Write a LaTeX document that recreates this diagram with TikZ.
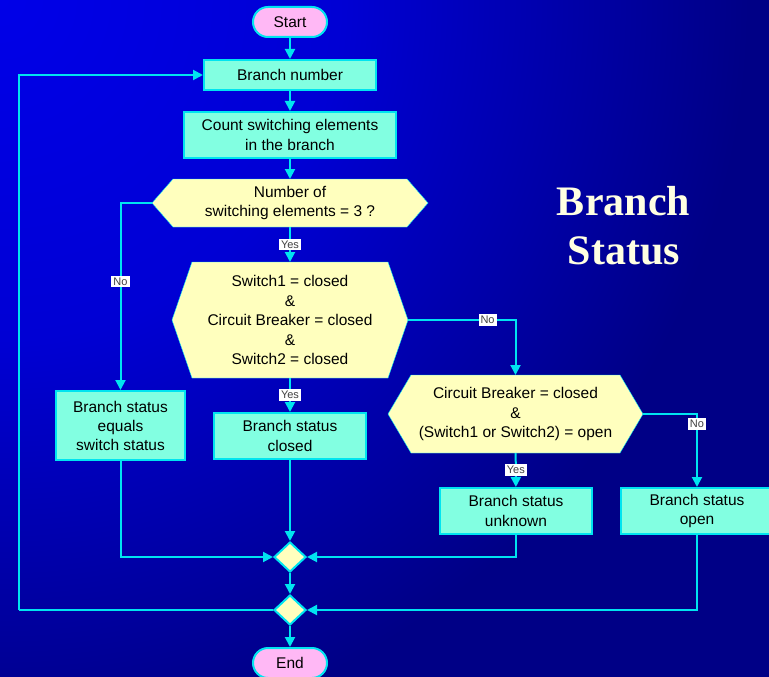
\documentclass[tikz,border=0pt]{standalone}
\usepackage{fontspec}
\setmainfont{Liberation Sans}
\newfontfamily\titlefont{Liberation Serif}
\usetikzlibrary{arrows.meta, calc, backgrounds, shapes.geometric}

\definecolor{bgA}{RGB}{0,0,232}
\definecolor{bgB}{RGB}{0,0,212}
\definecolor{bgC}{RGB}{0,0,134}
\definecolor{flowcyan}{RGB}{0,228,240}
\definecolor{taskfill}{RGB}{130,255,225}
\definecolor{askfill}{RGB}{255,255,190}
\definecolor{endsfill}{RGB}{255,184,245}
\definecolor{titlecream}{RGB}{255,255,226}

\pgfdeclareradialshading{backdrop}{\pgfpoint{0bp}{0bp}}{color(0bp)=(bgA); color(10.6bp)=(bgB); color(23.4bp)=(bgC); color(50bp)=(bgC)}

\begin{document}
\begin{tikzpicture}[x=1pt, y=-1pt, line width=2pt,
    font=\fontsize{15.5}{19.5}\selectfont,
    taskbox/.style={draw=flowcyan, fill=taskfill, inner sep=0pt, align=center},
    askbox/.style={inner sep=0pt, align=center},
    askshape/.style={draw=flowcyan, fill=askfill, line join=miter},
    endsbox/.style={draw=flowcyan, fill=endsfill, inner sep=0pt,
        minimum width=74pt, minimum height=30pt, rounded corners=15pt},
    joinbox/.style={diamond, draw=flowcyan, fill=askfill, inner sep=0pt,
        minimum width=32pt, minimum height=30pt},
    flow/.style={draw=flowcyan, -{Triangle[length=10pt, width=10pt]}},
    link/.style={draw=flowcyan},
    tag/.style={fill=white, text=black!75, inner xsep=2pt, inner ysep=2pt,
        font=\fontsize{11}{12}\selectfont}]

    \useasboundingbox (0, 0) rectangle (769, 677);

    % draw title
    \node[anchor=base, text=titlecream, font=\titlefont\bfseries\fontsize{42}{49}\selectfont] (title1) at (623.5, 215) {Branch};
    \node[anchor=base, text=titlecream, font=\titlefont\bfseries\fontsize{42}{49}\selectfont] (title2) at (624, 264) {Status};

    % draw main column
    \node[endsbox] (start) at (290, 22) {Start};
    \node[taskbox, minimum width=172pt, minimum height=30pt] (num) at (290, 75) {Branch number};
    \node[taskbox, minimum width=212pt, minimum height=46pt] (count) at (290, 135) {Count switching elements\\in the branch};
    \node[askbox, minimum width=274pt, minimum height=46pt] (q1) at (290, 203) {Number of\\switching elements = 3 ?};
    \node[askbox, minimum width=234pt, minimum height=114pt] (q2) at (290, 320) {Switch1 = closed\\\&\\Circuit Breaker = closed\\\&\\Switch2 = closed};
    \node[taskbox, minimum width=152pt, minimum height=46pt] (closed) at (290, 436) {Branch status\\closed};

    % draw side branches
    \node[taskbox, minimum width=129pt, minimum height=69pt, font=\fontsize{15.5}{19}\selectfont] (equals) at (120.5, 425.5) {Branch status\\equals\\switch status};
    \node[askbox, minimum width=253pt, minimum height=76pt] (q3) at (515.5, 414) {Circuit Breaker = closed\\\&\\(Switch1 or Switch2) = open};
    \node[taskbox, minimum width=152pt, minimum height=46pt] (unknown) at (516, 511) {Branch status\\unknown};
    \node[taskbox, minimum width=152pt, minimum height=46pt] (open) at (697, 511) {Branch status\\open};

    % draw joins and end
    \node[joinbox] (m1) at (290, 557) {};
    \node[joinbox] (m2) at (290, 610) {};
    \node[endsbox] (end) at (290, 663) {End};
    \coordinate (back) at (19, 610);

    % draw background and hexagons behind the text
    \begin{scope}[on background layer]
        \begin{scope}
            \clip (0, 0) rectangle (769, 677);
            \shade[shading=backdrop] (-800, -800) rectangle (800, 800);
        \end{scope}
        \foreach \q/\d in {q1/21, q2/20, q3/23} {
            \filldraw[askshape] ($(\q.north west)+(\d, 0)$) -- ($(\q.north east)+(-\d, 0)$) -- (\q.east)
                -- ($(\q.south east)+(-\d, 0)$) -- ($(\q.south west)+(\d, 0)$) -- (\q.west) -- cycle;
        }
    \end{scope}

    % draw connectors
    \draw[flow] (start) -- (num);
    \draw[flow] (num) -- (count);
    \draw[flow] (count) -- (q1);
    \draw[flow] (q1) -- node[tag] {Yes} (q2);
    \draw[flow] (q1.west) -| node[tag, pos=0.71] {No} (equals);
    \draw[flow] (q2) -- node[tag] {Yes} (closed);
    \draw[flow] (q2.east) -| node[tag, pos=0.37] {No} (q3);
    \draw[flow] (q3) -- node[tag] {Yes} (unknown);
    \draw[flow] (q3.east) -| node[tag, pos=0.57] {No} (open);
    \draw[flow] (equals) |- (m1);
    \draw[flow] (closed) -- (m1);
    \draw[flow] (unknown) |- (m1);
    \draw[flow] (m1) -- (m2);
    \draw[flow] (open) |- (m2);
    \draw[link] (m2) -- (back);
    \draw[flow] (back) |- (num);
    \draw[flow] (m2) -- (end);

\end{tikzpicture}
\end{document}
